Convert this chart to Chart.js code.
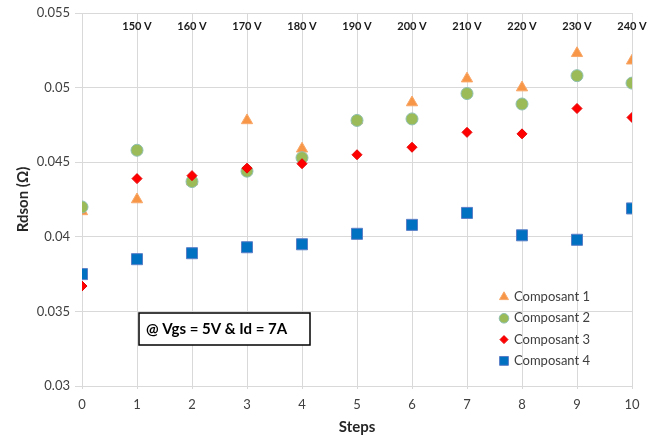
<!DOCTYPE html>
<html>
<head>
<meta charset="utf-8">
<script src="https://cdn.jsdelivr.net/npm/chart.js@4"></script>
<style>
  html, body { margin: 0; padding: 0; background: #fff; }
  #wrap { width: 661px; height: 437px; }
</style>
</head>
<body>
<div id="wrap"><canvas id="graphique"></canvas></div>
<script>
// Données
const steps = [0, 1, 2, 3, 4, 5, 6, 7, 8, 9, 10];
const tensions = ['', '150 V', '160 V', '170 V', '180 V', '190 V', '200 V', '210 V', '220 V', '230 V', '240 V'];
const composant1 = [0.0417, 0.0425, 0.0437, 0.0478, 0.0459, 0.0478, 0.0490, 0.0506, 0.0500, 0.0523, 0.0518];
const composant2 = [0.0420, 0.0458, 0.0437, 0.0444, 0.0453, 0.0478, 0.0479, 0.0496, 0.0489, 0.0508, 0.0503];
const composant3 = [0.0367, 0.0439, 0.0441, 0.0446, 0.0449, 0.0455, 0.0460, 0.0470, 0.0469, 0.0486, 0.0480];
const composant4 = [0.0375, 0.0385, 0.0389, 0.0393, 0.0395, 0.0402, 0.0408, 0.0416, 0.0401, 0.0398, 0.0419];
const yTicks = [0.03, 0.035, 0.04, 0.045, 0.05, 0.055];
const nomsSeries = ['Composant 1', 'Composant 2', 'Composant 3', 'Composant 4'];
const annotation = '@ Vgs = 5V & Id = 7A';

const police = 'Lato, "Open Sans", sans-serif';

function points(valeurs) {
    return steps.map((s, i) => ({ x: s, y: valeurs[i] }));
}

// Etiquettes de tension au-dessus de chaque step
const pluginTensions = {
    id: 'tensions',
    afterDatasetsDraw(chart) {
        const ctx = chart.ctx;
        const xs = chart.scales.x;
        ctx.save();
        ctx.font = 'bold 11px ' + police;
        ctx.fillStyle = '#1a1a1a';
        ctx.textAlign = 'center';
        ctx.textBaseline = 'middle';
        steps.forEach((s, i) => {
            if (tensions[i]) ctx.fillText(tensions[i], xs.getPixelForValue(s), chart.chartArea.top + 13);
        });
        ctx.restore();
    }
};

// Légende dans la zone du graphique + encadré des conditions
const pluginLegende = {
    id: 'legendeInterne',
    afterDatasetsDraw(chart) {
        const ctx = chart.ctx;
        ctx.save();
        // légende
        const x0 = 504, y0 = 297, pas = 21.3;
        ctx.textBaseline = 'middle';
        ctx.textAlign = 'left';
        chart.data.datasets.forEach((ds, i) => {
            const y = y0 + i * pas;
            ctx.fillStyle = ds.backgroundColor;
            ctx.strokeStyle = ds.borderColor;
            ctx.lineWidth = ds.borderWidth;
            Chart.helpers.drawPoint(ctx, {
                pointStyle: ds.pointStyle,
                radius: ds.pointRadius * 0.8,
                rotation: 0,
                borderWidth: ds.borderWidth
            }, x0, y);
            ctx.font = '13px ' + police;
            ctx.fillStyle = '#404040';
            ctx.fillText(ds.label, x0 + 10, y);
        });
        // encadré
        ctx.fillStyle = '#fff';
        ctx.fillRect(139, 313, 171, 32);
        ctx.strokeStyle = '#000';
        ctx.lineWidth = 1.5;
        ctx.strokeRect(139, 313, 171, 32);
        ctx.fillStyle = '#000';
        ctx.font = 'bold 15px ' + police;
        ctx.fillText(annotation, 146, 329);
        ctx.restore();
    }
};

const styleSeries = [
    { pointStyle: 'triangle', pointRadius: 6.5, backgroundColor: '#F79646', borderColor: '#F8A86A', order: 4 },
    { pointStyle: 'circle', pointRadius: 6, backgroundColor: '#9BBB59', borderColor: '#8EBFB0', order: 3 },
    { pointStyle: 'rectRot', pointRadius: 5, backgroundColor: '#FF0000', borderColor: '#E80000', order: 2 },
    { pointStyle: 'rect', pointRadius: 7.8, backgroundColor: '#0070C0', borderColor: '#5B7FC7', order: 1 }
];
const valeursSeries = [composant1, composant2, composant3, composant4];

new Chart(document.getElementById('graphique'), {
    type: 'scatter',
    data: {
        datasets: valeursSeries.map((v, i) => Object.assign({
            label: nomsSeries[i],
            data: points(v),
            borderWidth: 1,
            showLine: false
        }, styleSeries[i]))
    },
    options: {
        responsive: true,
        maintainAspectRatio: false,
        animation: false,
        layout: { padding: { top: 13, right: 29, left: 0, bottom: 0 } },
        plugins: {
            legend: { display: false },
            tooltip: { enabled: false }
        },
        scales: {
            x: {
                type: 'linear',
                min: 0,
                max: 10,
                afterFit: s => { s.height = 51; },
                border: { display: false },
                grid: { color: '#d9d9d9', tickLength: 3 },
                ticks: {
                    stepSize: 1,
                    padding: 8,
                    color: '#404040',
                    font: { family: police, size: 13 }
                },
                title: {
                    display: true,
                    text: 'Steps',
                    color: '#262626',
                    font: { family: police, size: 15, weight: 'bold' },
                    padding: { top: 0, bottom: 1 }
                }
            },
            y: {
                min: 0.03,
                max: 0.055,
                afterFit: s => { s.width = 82; },
                afterBuildTicks: s => { s.ticks = yTicks.map(v => ({ value: v })); },
                border: { display: false },
                grid: { color: '#d9d9d9', tickLength: 7 },
                ticks: {
                    padding: 5,
                    color: '#404040',
                    font: { family: police, size: 13 },
                    callback: v => String(parseFloat(v.toFixed(3)))
                },
                title: {
                    display: true,
                    text: 'Rdson (Ω)',
                    color: '#262626',
                    font: { family: police, size: 15, weight: 'bold' },
                    padding: { top: 14, bottom: 0 }
                }
            }
        }
    },
    plugins: [pluginTensions, pluginLegende]
});
</script>
</body>
</html>
